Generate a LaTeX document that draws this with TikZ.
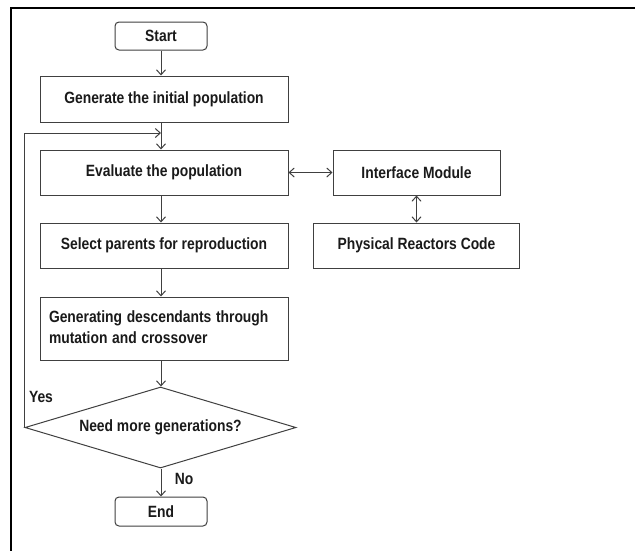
\documentclass[tikz,border=0pt]{standalone}
\usepackage{fontspec}
\usepackage{graphicx}
\setmainfont{Liberation Sans}
\usetikzlibrary{shapes.geometric,arrows.meta}
\definecolor{ln}{HTML}{404040}
\definecolor{tx}{HTML}{1A1A1A}
\newcommand{\narrowtxt}[1]{\scalebox{0.85}[1]{#1}}
\tikzset{
  fnt/.style={font=\fontsize{16.3}{21}\selectfont\bfseries, text=tx},
  box/.style={draw=ln, line width=1pt, rectangle, minimum height=45pt, inner sep=0pt, fnt},
  term/.style={box, rounded corners=4pt, minimum width=92pt, minimum height=28pt},
  decide/.style={draw=ln, line width=1pt, diamond, aspect=3.3, inner sep=0pt,
     minimum width=271pt, minimum height=81pt, fnt},
  arr/.style={draw=ln, line width=1pt, -{Straight Barb[length=5pt,width=9pt]}},
  dbl/.style={draw=ln, line width=1pt, {Straight Barb[length=5pt,width=9pt]}-{Straight Barb[length=5pt,width=9pt]}},
  lbl/.style={fnt, inner sep=0pt}
}
\begin{document}
\begin{tikzpicture}[x=1pt,y=-1pt]
\useasboundingbox (0,0) rectangle (635,550);
\fill[white] (0,0) rectangle (635,550);
\draw[black, line width=2pt] (10.5,551) -- (10.5,8) -- (636,8);

\node[term] (start) at (161,36) {\narrowtxt{Start}};
\node[box, minimum width=248pt, minimum height=46pt] (gen) at (164,99) {\narrowtxt{Generate the initial population}};
\node[box, minimum width=248pt] (eval) at (164,172.5) {\narrowtxt{Evaluate the population}};
\node[box, minimum width=248pt] (sel) at (164,245.5) {\narrowtxt{Select parents for reproduction}};
\node[box, minimum width=248pt, minimum height=63pt, align=left, text width=230pt] (desc) at (164,328.5)
   {\narrowtxt{\begin{tabular}{@{}l@{}}Generating descendants through\\mutation and crossover\end{tabular}}};
\node[decide] (dia) at (160.5,427.5) {\narrowtxt{Need more generations?}};
\node[term, minimum height=29pt] (end) at (161,511.5) {\narrowtxt{End}};
\node[box, minimum width=167pt] (iface) at (416.5,172.5) {\narrowtxt{Interface Module}};
\node[box, minimum width=206pt] (phys) at (416.5,245.5) {\narrowtxt{Physical Reactors Code}};

\coordinate (axis) at (161,0);
\coordinate (loopend) at (161,133);

\draw[arr] (start.south) -- (start.south |- gen.north);
\draw[arr] (gen.south -| axis) -- (eval.north -| axis);
\draw[arr] (eval.south -| axis) -- (sel.north -| axis);
\draw[arr] (sel.south -| axis) -- (desc.north -| axis);
\draw[arr] (desc.south -| axis) -- (dia.north -| axis);
\draw[arr] (dia.south -| axis) -- (end.north -| axis);
\draw[arr] (dia.west) -- (dia.west |- loopend) -- (loopend);
\draw[dbl] (eval.east) -- (iface.west);
\draw[dbl] (iface.south) -- (phys.north);

\node[lbl] (yes) at (41,397) {\narrowtxt{Yes}};
\node[lbl] (no) at (184,479) {\narrowtxt{No}};
\end{tikzpicture}
\end{document}
